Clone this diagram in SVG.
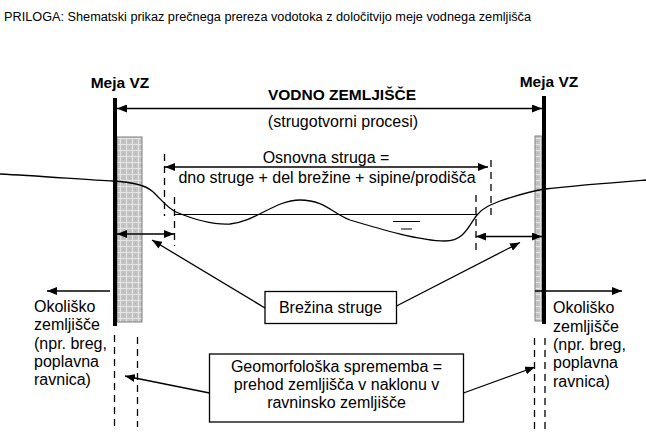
<svg xmlns="http://www.w3.org/2000/svg" width="646" height="443" viewBox="0 0 646 443">
<style>
text{font-family:"Liberation Sans",Arial,sans-serif;fill:#000}
.t{font-size:16px}
.b{font-size:15.5px;font-weight:bold}
.ln{stroke:#000;stroke-width:1.3;fill:none}
.dash{stroke:#000;stroke-width:1.3;stroke-dasharray:7,5;fill:none}
.box{fill:#fff;stroke:#000;stroke-width:1.3}
.wall{stroke:#000;stroke-width:4}
.hatch{fill:url(#grid);stroke:#808080;stroke-width:1}
</style>
<defs>
<pattern id="grid" width="6" height="6" patternUnits="userSpaceOnUse">
<rect width="6" height="6" fill="#c4c4c4"/>
<path d="M0,0.5H6M0.5,0V6" stroke="#e4e4e4" stroke-width="1"/>
<rect x="3" y="3" width="1" height="1" fill="#a8a8a8"/>
</pattern>
<marker id="ah" viewBox="0 0 10 8" refX="10" refY="4" markerWidth="10" markerHeight="8" markerUnits="userSpaceOnUse" orient="auto-start-reverse">
<path d="M0,0L10,4L0,8z" fill="#000"/>
</marker>
</defs>
<text x="4" y="20.5" style="font-size:12.3px" textLength="527" lengthAdjust="spacingAndGlyphs">PRILOGA: Shematski prikaz prečnega prereza vodotoka z določitvijo meje vodnega zemljišča</text>

<g id="left-wall">
<rect class="hatch" x="117" y="137" width="25" height="185"/>
<line class="wall" x1="115" y1="98" x2="115" y2="326"/>
<text class="b" x="120" y="88" text-anchor="middle">Meja VZ</text>
</g>
<g id="right-wall">
<rect class="hatch" x="535" y="136" width="7" height="185"/>
<line class="wall" x1="544" y1="96" x2="544" y2="324"/>
<text class="b" x="549" y="87" text-anchor="middle">Meja VZ</text>
</g>

<g id="terrain">
<path class="ln" d="M0,174 C40,176 90,180 113,181 C130,182 144,184 152,191 C160,198 167,208 176,212 C195,220 212,225 230,224 C255,222 275,200 300,200 C325,200 333,214 350,220 C380,229 420,241 445,241 C466,241 470,222 478,214 C483,208 490,205 500,201 C515,196 530,191 545,189 C580,185 620,182 646,180"/>
<line class="ln" x1="175" y1="214.5" x2="478" y2="214.5" style="stroke-width:1"/>
<line class="ln" x1="393" y1="221.5" x2="420" y2="221.5" style="stroke-width:1"/>
<line class="ln" x1="401" y1="229" x2="412" y2="229" style="stroke-width:1"/>
</g>

<g id="vodno-zemljisce">
<text class="b" x="342" y="100" text-anchor="middle">VODNO ZEMLJIŠČE</text>
<text class="t" x="343" y="127" text-anchor="middle">(strugotvorni procesi)</text>
</g>

<g id="osnovna-struga">
<text class="t" x="326" y="163" text-anchor="middle">Osnovna struga =</text>
<text class="t" x="327" y="183" text-anchor="middle">dno struge + del brežine + sipine/prodišča</text>
</g>

<g id="brezina-struge">
<rect class="box" x="265" y="291.5" width="131.5" height="32"/>
<text class="t" x="330.5" y="313" text-anchor="middle">Brežina struge</text>
</g>

<g id="geomorfoloska-sprememba">
<rect class="box" x="209.5" y="354" width="254" height="68"/>
<text class="t" x="336.5" y="372" text-anchor="middle">Geomorfološka sprememba =</text>
<text class="t" x="336.5" y="390" text-anchor="middle">prehod zemljišča v naklonu v</text>
<text class="t" x="336.5" y="408" text-anchor="middle">ravninsko zemljišče</text>
</g>

<g id="okolisko-left">
<text class="t" x="34" y="311.5">Okoliško</text>
<text class="t" x="34" y="330">zemljišče</text>
<text class="t" x="34" y="348.5">(npr. breg,</text>
<text class="t" x="34" y="366.5">poplavna</text>
<text class="t" x="34" y="385">ravnica)</text>
</g>
<g id="okolisko-right">
<text class="t" x="553" y="313">Okoliško</text>
<text class="t" x="553" y="331.5">zemljišče</text>
<text class="t" x="553" y="350">(npr. breg,</text>
<text class="t" x="553" y="368">poplavna</text>
<text class="t" x="553" y="386.5">ravnica)</text>
</g>

<g id="connectors">
<line class="ln" x1="117" y1="108.5" x2="542" y2="108.5" marker-start="url(#ah)" marker-end="url(#ah)"/>
<line class="ln" x1="165" y1="167" x2="488" y2="167" marker-start="url(#ah)" marker-end="url(#ah)"/>
<line class="dash" x1="164.5" y1="154" x2="164.5" y2="216"/>
<line class="dash" x1="174.5" y1="197" x2="174.5" y2="246"/>
<line class="dash" x1="491" y1="160" x2="491" y2="218"/>
<line class="dash" x1="476" y1="195" x2="476" y2="253"/>
<line class="ln" x1="117" y1="234" x2="174" y2="234" marker-start="url(#ah)" marker-end="url(#ah)"/>
<line class="ln" x1="476" y1="236.5" x2="542" y2="236.5" marker-start="url(#ah)" marker-end="url(#ah)"/>
<line class="ln" x1="265" y1="308" x2="152" y2="240" marker-end="url(#ah)"/>
<line class="ln" x1="396.5" y1="306" x2="520" y2="242.5" marker-end="url(#ah)"/>
<line class="ln" x1="209.5" y1="393" x2="125" y2="376" marker-end="url(#ah)"/>
<line class="ln" x1="463.5" y1="393" x2="535" y2="367" marker-end="url(#ah)"/>
<line class="ln" x1="110" y1="291" x2="47" y2="291" marker-end="url(#ah)"/>
<line class="ln" x1="535" y1="291" x2="622" y2="291" marker-end="url(#ah)"/>
<line class="dash" x1="114.5" y1="335" x2="114.5" y2="427"/>
<line class="dash" x1="137.5" y1="337" x2="137.5" y2="427"/>
<line class="dash" x1="534.5" y1="338" x2="534.5" y2="430"/>
<line class="dash" x1="545" y1="338" x2="545" y2="430"/>
</g>
</svg>
